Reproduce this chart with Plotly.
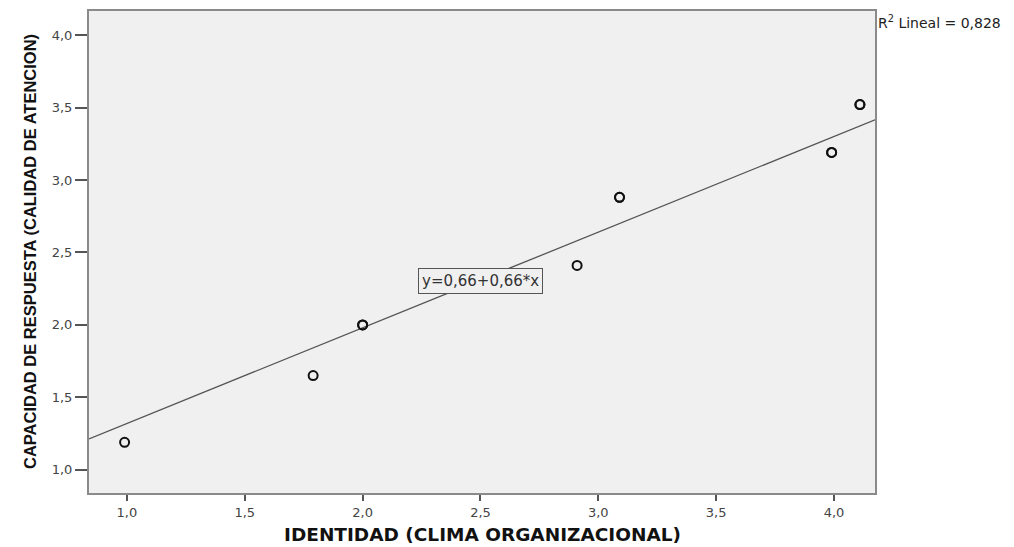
import plotly.graph_objects as go

# Observations: identidad (clima organizacional) vs capacidad de respuesta
identidad = [0.99, 1.79, 2.00, 2.00, 2.91, 3.09, 3.09, 3.99, 3.99, 4.11, 4.11]
capacidad = [1.19, 1.65, 2.00, 2.00, 2.41, 2.88, 2.88, 3.19, 3.19, 3.52, 3.52]

# Fitted linear model
intercept = 0.66
slope = 0.66
r2 = "0,828"

x_range = [0.839, 4.174]
y_range = [0.84, 4.166]

x_ticks = [1.0, 1.5, 2.0, 2.5, 3.0, 3.5, 4.0]
y_ticks = [1.0, 1.5, 2.0, 2.5, 3.0, 3.5, 4.0]

x_title = "IDENTIDAD (CLIMA ORGANIZACIONAL)"
y_title = "CAPACIDAD DE RESPUESTA (CALIDAD DE ATENCION)"


def coma(v, dec=1):
    return f"{v:.{dec}f}".replace(".", ",")


fit_x = x_range
fit_y = [intercept + slope * v for v in fit_x]

fig = go.Figure()
fig.add_trace(go.Scatter(
    x=fit_x, y=fit_y, mode="lines",
    line=dict(color="#555555", width=1.3),
    hoverinfo="skip", showlegend=False,
))
fig.add_trace(go.Scatter(
    x=identidad, y=capacidad, mode="markers",
    marker=dict(symbol="circle-open", size=9, color="#111111",
                line=dict(width=2, color="#111111")),
    showlegend=False,
))

wide = "DejaVu Sans, Verdana, sans-serif"
narrow = "Liberation Sans Narrow, Liberation Sans, Arial, sans-serif"
tick_font = dict(family=wide, size=13, color="#444444")

fig.update_layout(
    width=1014, height=547,
    margin=dict(l=89, r=139, t=11, b=54, autoexpand=False),
    paper_bgcolor="white",
    plot_bgcolor="#f0f0f0",
    xaxis=dict(
        range=x_range, tickvals=x_ticks, ticktext=[coma(v) for v in x_ticks],
        showgrid=False, zeroline=False, automargin=False,
        showline=True, linecolor="#8a8a8a", linewidth=2, mirror=True,
        ticks="outside", ticklen=6, tickcolor="#555555", tickwidth=1.5,
        tickfont=tick_font,
    ),
    yaxis=dict(
        range=y_range, tickvals=y_ticks, ticktext=[coma(v) for v in y_ticks],
        showgrid=False, zeroline=False, automargin=False,
        showline=True, linecolor="#8a8a8a", linewidth=2, mirror=True,
        ticks="outside", ticklen=12, tickcolor="#555555", tickwidth=1.5,
        tickfont=tick_font,
    ),
)

# Axis titles
fig.add_annotation(
    x=0.5, y=0, xref="paper", yref="paper",
    xanchor="center", yanchor="middle", yshift=-41,
    text=f"<b>{x_title}</b>", showarrow=False,
    font=dict(family=wide, size=18.5, color="#111111"),
)
fig.add_annotation(
    x=0, y=0.5, xref="paper", yref="paper",
    xanchor="center", yanchor="middle", xshift=-59,
    text=f"<b>{y_title}</b>", showarrow=False, textangle=-90,
    font=dict(family=narrow, size=16.5, color="#111111"),
)

# Regression equation label
fig.add_annotation(
    x=2.5, y=2.305, xref="x", yref="y",
    text=f"y={coma(intercept, 2)}+{coma(slope, 2)}*x",
    showarrow=False,
    font=dict(family=wide, size=15, color="#333333"),
    bgcolor="#f0f0f0", bordercolor="#555555", borderwidth=1, borderpad=3,
)

# Goodness of fit label
fig.add_annotation(
    x=1.0, y=1.0, xref="paper", yref="paper",
    xanchor="left", yanchor="top", xshift=1, yshift=0,
    text=f"R<sup>2</sup> Lineal = {r2}",
    showarrow=False,
    font=dict(family=wide, size=14, color="#222222"),
)

fig.write_html("out.html")
